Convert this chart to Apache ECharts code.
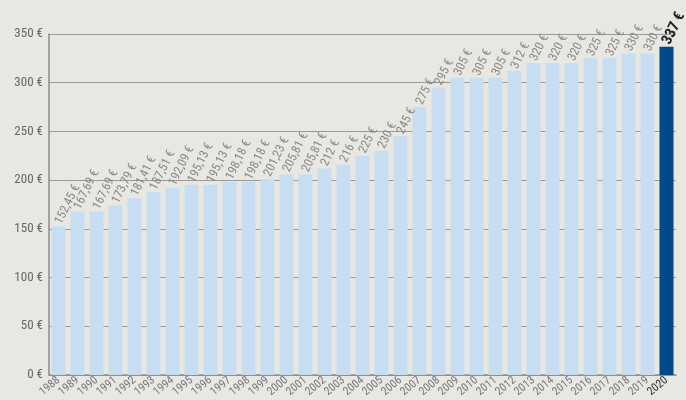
<!DOCTYPE html>
<html><head><meta charset="utf-8">
<script src="https://cdn.jsdelivr.net/npm/echarts@6/dist/echarts.min.js"></script>
<style>html,body{margin:0;padding:0;background:#e9e7e2;}#c{width:686px;height:400px;}</style>
</head><body><div id="c"></div>
<script>
const years = ['1988','1989','1990','1991','1992','1993','1994','1995','1996','1997','1998','1999','2000','2001','2002','2003','2004','2005','2006','2007','2008','2009','2010','2011','2012','2013','2014','2015','2016','2017','2018','2019','2020'];
const values = [152.45,167.69,167.69,173.79,181.41,187.51,192.09,195.13,195.13,198.18,198.18,201.23,205.81,205.81,212,216,225,230,245,275,295,305,305,305,312,320,320,320,325,325,330,330,337];
const yTicks = [0,50,100,150,200,250,300,350];

function fmt(v){
  const s = Number.isInteger(v) ? String(v) : v.toFixed(2).replace('.', ',');
  return s + ' €';
}
const font = '"Liberation Sans Narrow", "Roboto Condensed", "DejaVu Sans Condensed", sans-serif';
const last = values.length - 1;
const data = values.map((v,i)=>({
  value: v,
  itemStyle: {color: i===last ? '#004a87' : '#c6ddf2'},
  label: i===last ? {fontWeight:'bold', color:'#222', fontSize:15} : undefined
}));
const chart = echarts.init(document.getElementById('c'));
chart.setOption({
  backgroundColor: '#e9e7e2',
  animation: false,
  grid: {left: 49, right: 10, top: 34, bottom: 24},
  xAxis: {
    type: 'category', data: years,
    axisLine: {lineStyle: {color: '#8c8c8c', width: 1.5}},
    axisTick: {show: false},
    axisLabel: {
      interval: 0, rotate: 40, fontFamily: font, fontSize: 11.5, color: '#777', margin: 4,
      formatter: (v)=> v==='2020' ? '{d|'+v+'}' : v,
      rich: {d: {color:'#333', fontFamily: font, fontSize: 11.5}}
    }
  },
  yAxis: {
    type: 'value', min: 0, max: 350, interval: 50,
    axisLine: {show: true, lineStyle: {color: '#8c8c8c', width: 1.5}},
    axisTick: {show: false},
    splitLine: {lineStyle: {color: '#999', width: 1.2}},
    axisLabel: {fontFamily: font, fontSize: 13, color: '#666', margin: 6, formatter: (v)=> yTicks.includes(v) ? v + ' €' : ''}
  },
  series: [{
    type: 'bar', data: data, barCategoryGap: '26%',
    label: {
      show: true, position: 'top', rotate: 64, align: 'left', verticalAlign: 'middle',
      distance: 3, fontFamily: font, fontSize: 12.5, color: '#888',
      formatter: (p)=>fmt(p.value)
    }
  }]
});
</script></body></html>
